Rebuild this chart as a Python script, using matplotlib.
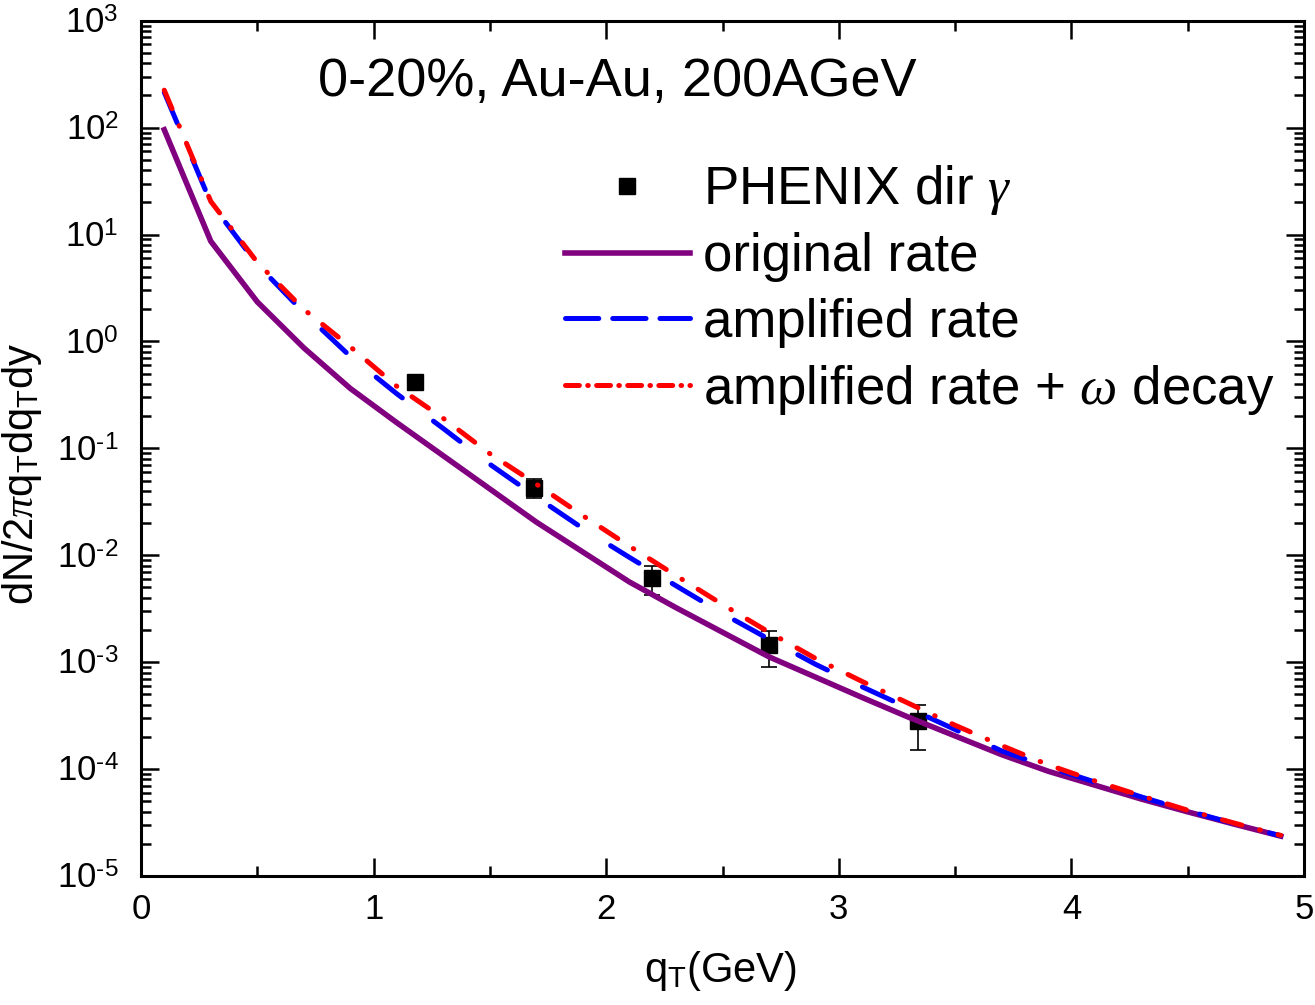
import numpy as np
import matplotlib
matplotlib.use("Agg")
import matplotlib.pyplot as plt
from matplotlib.lines import Line2D

plt.rcParams['font.family'] = ['Liberation Sans', 'DejaVu Sans']
plt.rcParams['mathtext.fontset'] = 'custom'
plt.rcParams['mathtext.rm'] = 'Liberation Sans'
plt.rcParams['mathtext.it'] = 'Liberation Serif:italic'
plt.rcParams['mathtext.bf'] = 'Liberation Sans:bold'
plt.rcParams['axes.unicode_minus'] = False

# ---- data ----
qt = [0.1, 0.3, 0.5, 0.7, 0.9, 1.1, 1.3, 1.5, 1.7, 1.9, 2.1, 2.3, 2.5,
      2.7, 2.9, 3.1, 3.3, 3.5, 3.7, 3.9, 4.1, 4.3, 4.5, 4.7, 4.9]
log_original = [1.98, 0.937, 0.37, -0.06, -0.44, -0.76, -1.07, -1.38, -1.69,
                -1.97, -2.25, -2.49, -2.72, -2.95, -3.14, -3.33, -3.515,
                -3.69, -3.865, -4.02, -4.15, -4.28, -4.40, -4.515, -4.627]
log_amplified = [2.33, 1.297, 0.72, 0.27, -0.14, -0.49, -0.815, -1.149, -1.455,
                 -1.75, -2.02, -2.285, -2.545, -2.785, -3.02, -3.23, -3.43,
                 -3.63, -3.83, -3.98, -4.12, -4.26, -4.39, -4.51, -4.625]
log_omega = [2.35, 1.31, 0.74, 0.30, -0.05, -0.42, -0.72, -1.05, -1.335,
             -1.63, -1.915, -2.19, -2.46, -2.72, -2.965, -3.18, -3.385,
             -3.59, -3.78, -3.96, -4.11, -4.25, -4.385, -4.505, -4.62]

phenix_x = [1.18, 1.69, 2.196, 2.70, 3.34]
phenix_y = [0.419, 0.0428, 6.1e-3, 1.44e-3, 2.8e-4]
phenix_hi = [0.45, 0.052, 8.0e-3, 1.97e-3, 3.98e-4]
phenix_lo = [0.39, 0.0345, 4.25e-3, 9.0e-4, 1.51e-4]

labels = ['PHENIX dir $\\gamma$', 'original rate', 'amplified rate',
          'amplified rate + $\\omega$ decay']

# ---- figure ----
W, H = 1315, 1005
fig = plt.figure(figsize=(W / 100, H / 100), dpi=100)
ax = fig.add_axes([141 / W, 1 - 876 / H, (1304 - 141) / W, (876 - 20.7) / H])

y_orig = 10 ** np.array(log_original)
y_amp = 10 ** np.array(log_amplified)
y_om = 10 ** np.array(log_omega)
py = np.array(phenix_y)
yerr = [py - np.array(phenix_lo), np.array(phenix_hi) - py]

ax.errorbar(phenix_x, py, yerr=yerr, fmt='s', color='black', ms=12,
            ecolor='black', elinewidth=1.2, capsize=6, capthick=1.2, zorder=2)
ax.plot(qt, y_orig, color='#800080', lw=4, zorder=3)
l_amp, = ax.plot(qt, y_amp, color='#0000ff', lw=3.6, zorder=4,
                 dash_capstyle='round')
l_amp.set_dashes([24 / 3.6, 28 / 3.6])
l_om, = ax.plot(qt, y_om, color='#ff0000', lw=3.6, zorder=5,
                dash_capstyle='round')
l_om.set_dashes([14.4 / 3.6, 13.3 / 3.6, 0.4 / 3.6, 13.3 / 3.6])

ax.set_yscale('log')
ax.set_xlim(0, 5)
ax.set_ylim(1e-5, 1e3)
ax.set_xticks([0, 1, 2, 3, 4, 5])
ax.set_xticks([0.5, 1.5, 2.5, 3.5, 4.5], minor=True)
ax.yaxis.set_major_locator(matplotlib.ticker.LogLocator(base=10, numticks=20))
ax.yaxis.set_minor_locator(matplotlib.ticker.LogLocator(base=10, subs=np.arange(2, 10), numticks=20))
ax.yaxis.set_minor_formatter(matplotlib.ticker.NullFormatter())


def log_fmt(v, pos):
    e = int(round(np.log10(v)))
    return '10$^{\\text{%d}}$' % e


ax.yaxis.set_major_formatter(matplotlib.ticker.FuncFormatter(log_fmt))

for s in ax.spines.values():
    s.set_linewidth(2.2)
ax.tick_params(which='both', direction='in', top=True, right=True, width=1.8)
ax.tick_params(which='major', length=13)
ax.tick_params(which='minor', length=7)
ax.tick_params(axis='y', which='major', labelsize=25, pad=16)
ax.tick_params(axis='x', which='major', labelsize=25, pad=12)

ax.set_xlabel('q$_\\mathrm{T}$(GeV)', fontsize=30)
ax.set_ylabel('dN/2$\\pi$q$_\\mathrm{T}$dq$_\\mathrm{T}$dy', fontsize=30)
ax.xaxis.set_label_coords(0.498, -0.085)
ax.yaxis.set_label_coords(-0.083, 0.47)

ax.text((318 - 141) / 1163, (876 - 96) / 855.3, '0-20%, Au-Au, 200AGeV',
        transform=ax.transAxes, fontsize=39, va='baseline', ha='left')

handles = [Line2D([], [], marker='s', ls='none', color='black', ms=11),
           Line2D([], [], color='#800080', lw=4),
           Line2D([], [], color='#0000ff', lw=3.6, dashes=[24 / 3.6, 10 / 3.6],
                  dash_capstyle='round'),
           Line2D([], [], color='#ff0000', lw=3.6,
                  dashes=[10 / 3.6, 6 / 3.6, 0.4 / 3.6, 6 / 3.6],
                  dash_capstyle='round')]
leg = ax.legend(handles, labels, loc='upper left',
                bbox_to_anchor=((565 - 141) / 1163, (876 - 163) / 855.3),
                frameon=False, fontsize=38, handlelength=2.36,
                handletextpad=0.25, labelspacing=0.29, borderpad=0,
                borderaxespad=0)

fig.savefig('out.png', dpi=100)
